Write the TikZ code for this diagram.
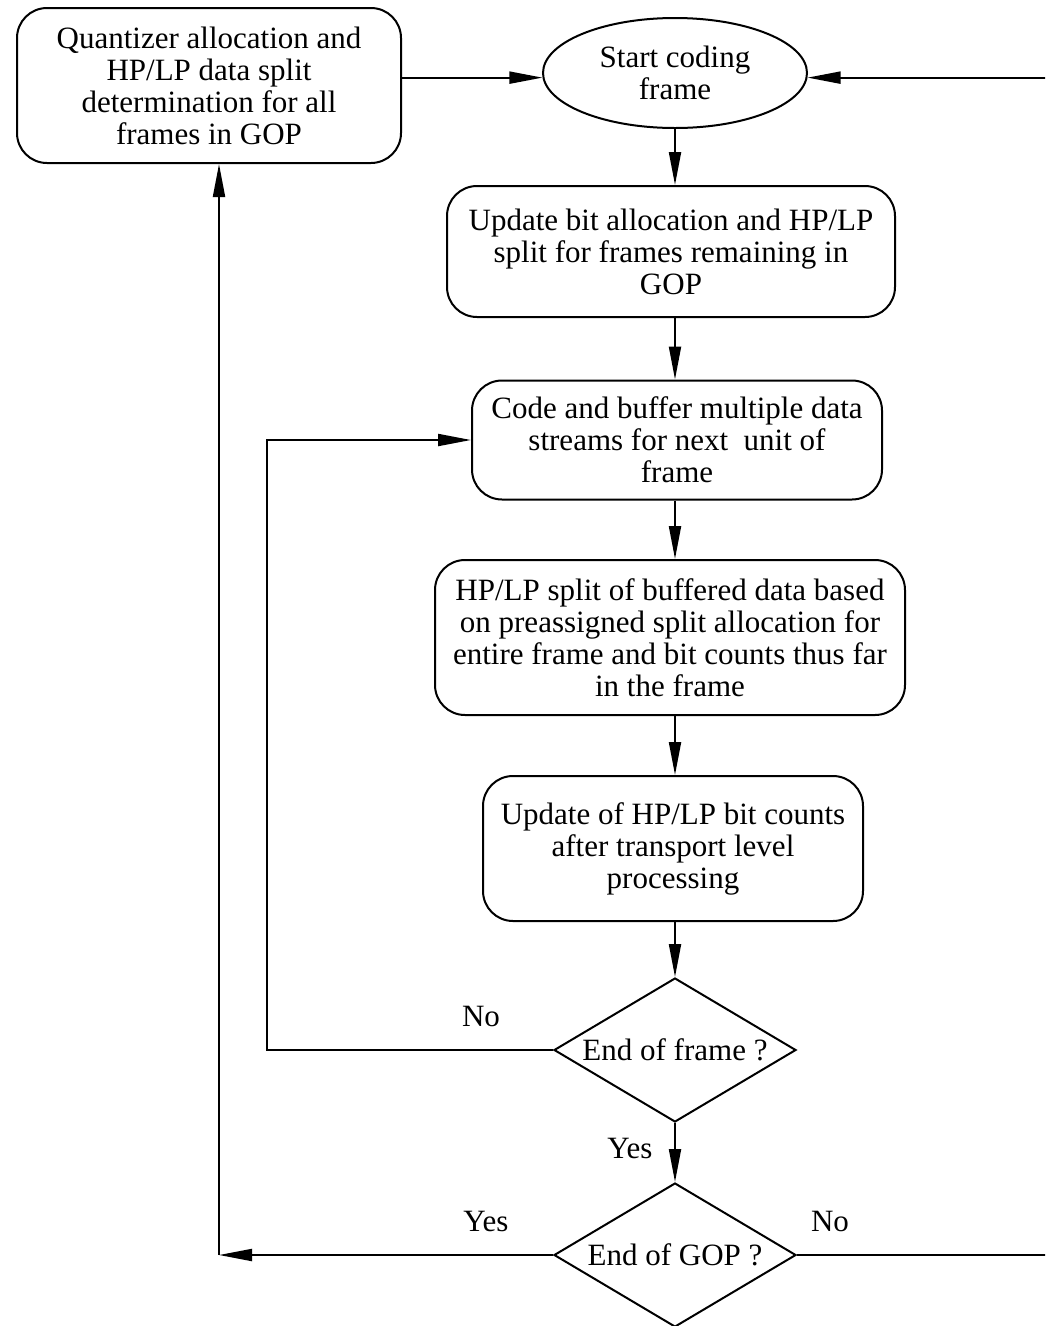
\documentclass[tikz,border=0pt]{standalone}
\usepackage{fontspec}
\setmainfont{Liberation Serif}
\usetikzlibrary{shapes.geometric,arrows.meta}
\begin{document}
\begin{tikzpicture}[x=1pt,y=-1pt,
  every node/.style={font=\fontsize{31}{32}\selectfont},
  proc/.style={draw, line width=2pt, rounded corners=30pt, align=center, inner sep=0pt},
  term/.style={draw, ellipse, line width=2pt, align=center, inner sep=0pt,
    minimum width=264pt, minimum height=110pt},
  decide/.style={draw, diamond, line width=2pt, inner sep=0pt, shape aspect=1.68,
    minimum width=242pt, minimum height=144pt},
  flow/.style={line width=2pt, -{Triangle[length=33pt,width=12pt]}},
  lbl/.style={inner sep=0pt}]
\useasboundingbox (0,0) rectangle (1045,1326);
\clip (0,0) rectangle (1045,1326);

% process boxes
\node[proc, minimum width=384pt, minimum height=155pt] (Q) at (209,85.5)
  {Quantizer allocation and\\HP/LP data split\\determination for all\\frames in GOP};
\node[term] (S) at (675,73) {Start coding\\frame};
\node[proc, minimum width=448pt, minimum height=131pt] (U) at (671,251.5)
  {Update bit allocation and HP/LP\\split for frames remaining in\\GOP};
\node[proc, minimum width=410pt, minimum height=119pt] (C) at (677,440)
  {Code and buffer multiple data\\streams for next\ \ unit of\\frame};
\node[proc, minimum width=470pt, minimum height=155pt] (H) at (670,637.5)
  {HP/LP split of buffered data based\\on preassigned split allocation for\\entire frame and bit counts thus far\\in the frame};
\node[proc, minimum width=380pt, minimum height=145pt] (T) at (673,848.5)
  {Update of HP/LP bit counts\\after transport level\\processing};

% decisions
\node[decide] (E) at (675,1050) {End of frame ?};
\node[decide] (G) at (675,1255) {End of GOP ?};

% branch labels
\node[lbl] (lno1) at (481,1016) {No};
\node[lbl] (lyes1) at (630,1148) {Yes};
\node[lbl] (lyes2) at (486,1221) {Yes};
\node[lbl] (lno2) at (830,1221) {No};

% routing points
\coordinate (lx) at (267,0);
\coordinate (rx) at (1060,0);
\coordinate (yc) at (219,1255);

% main flow
\draw[flow] (Q.east |- S.182) -- (S.182);
\draw[flow] (S.south) -- (U.north -| S.south);
\draw[flow] (U.south -| S.south) -- (C.north -| S.south);
\draw[flow] (C.south -| S.south) -- (H.north -| S.south);
\draw[flow] (H.south -| S.south) -- (T.north -| S.south);
\draw[flow] (T.south -| S.south) -- (E.north);
\draw[flow] (E.south) -- (G.north);

% loops
\draw[flow] (E.west) -- (E.west -| lx) -- (lx |- C.west) -- (C.west);
\draw[flow] (G.west) -- (yc);
\draw[flow] (yc) -- (yc |- Q.south);
\draw[flow] (G.east) -- (G.east -| rx) -- (rx |- S.358) -- (S.358);
\end{tikzpicture}
\end{document}
